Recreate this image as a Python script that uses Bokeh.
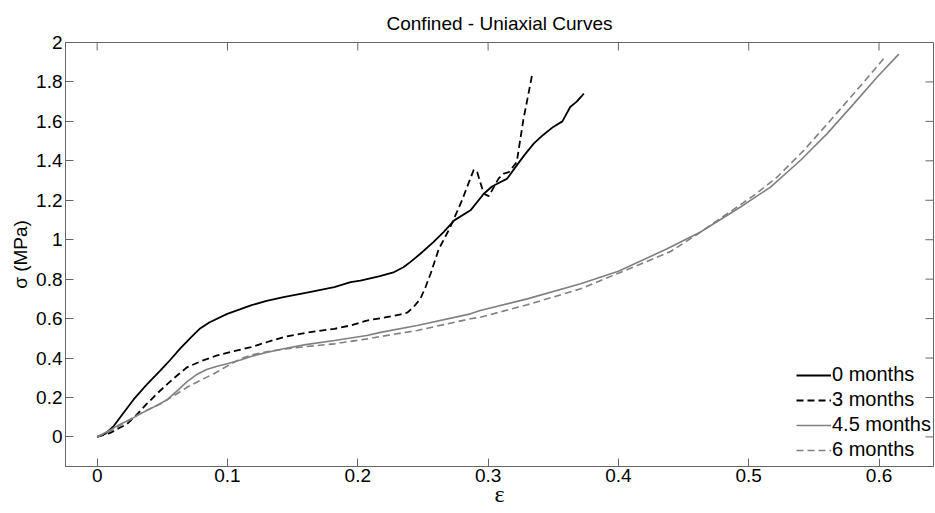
import math
from bokeh.plotting import figure
from bokeh.models import Range1d, FixedTicker, Legend, LegendItem
from bokeh.embed import file_html
from bokeh.resources import INLINE

title_text = "Confined - Uniaxial Curves"
x_label = "ε"
y_label = "σ (MPa)"
series_names = ["0 months", "3 months", "4.5 months", "6 months"]

x_ticks = [0.0, 0.1, 0.2, 0.3, 0.4, 0.5, 0.6]
x_tick_labels = ["0", "0.1", "0.2", "0.3", "0.4", "0.5", "0.6"]
y_ticks = [0.0, 0.2, 0.4, 0.6, 0.8, 1.0, 1.2, 1.4, 1.6, 1.8, 2.0]
y_tick_labels = ["0", "0.2", "0.4", "0.6", "0.8", "1", "1.2", "1.4", "1.6", "1.8", "2"]

x_start, x_end = -0.0243, 0.6418
y_start, y_end = -0.15, 2.0

# 0 months (black solid)
strain_0 = [0, 0.006, 0.0127, 0.02, 0.028, 0.038, 0.0486, 0.056, 0.064, 0.072, 0.079,
            0.086, 0.0998, 0.11, 0.118, 0.13, 0.143, 0.16, 0.182, 0.1945, 0.202, 0.217,
            0.228, 0.235, 0.24, 0.248, 0.258, 0.266, 0.274, 0.2865, 0.2967, 0.303,
            0.307, 0.3147, 0.322, 0.328, 0.335, 0.342, 0.350, 0.357, 0.363, 0.368, 0.3735]
stress_0 = [0, 0.015, 0.055, 0.12, 0.19, 0.265, 0.337, 0.39, 0.45, 0.505, 0.55,
            0.58, 0.624, 0.648, 0.667, 0.69, 0.709, 0.73, 0.76, 0.785, 0.793, 0.815,
            0.836, 0.86, 0.885, 0.929, 0.988, 1.04, 1.098, 1.149, 1.233, 1.27,
            1.284, 1.31, 1.377, 1.43, 1.487, 1.53, 1.572, 1.60, 1.673, 1.70, 1.741]

# 3 months (black dashed)
strain_3 = [0, 0.01, 0.017, 0.023, 0.03, 0.038, 0.046, 0.054, 0.062, 0.069, 0.08,
            0.092, 0.105, 0.118, 0.13, 0.143, 0.16, 0.182, 0.195, 0.207, 0.22, 0.232,
            0.238, 0.243, 0.248, 0.252, 0.256, 0.262, 0.271, 0.28, 0.289, 0.2916,
            0.2967, 0.3005, 0.303, 0.308, 0.312, 0.316, 0.322, 0.327, 0.334]
stress_3 = [0, 0.02, 0.045, 0.066, 0.11, 0.167, 0.22, 0.269, 0.315, 0.353, 0.385,
            0.413, 0.435, 0.455, 0.48, 0.506, 0.528, 0.548, 0.566, 0.59, 0.605, 0.62,
            0.63, 0.66, 0.70, 0.76, 0.83, 0.95, 1.064, 1.2, 1.355, 1.343,
            1.233, 1.221, 1.25, 1.31, 1.335, 1.343, 1.394, 1.606, 1.843]

# 4.5 months (grey solid)
strain_45 = [0, 0.01, 0.018, 0.026, 0.033, 0.043, 0.054, 0.062, 0.069, 0.076, 0.084,
             0.092, 0.0998, 0.11, 0.118, 0.13, 0.143, 0.16, 0.182, 0.207, 0.2174,
             0.2456, 0.2865, 0.294, 0.33, 0.371, 0.40, 0.4374, 0.463, 0.4937, 0.5167,
             0.5398, 0.5602, 0.5807, 0.5986, 0.6152]
stress_45 = [0, 0.035, 0.066, 0.09, 0.117, 0.15, 0.19, 0.237, 0.28, 0.315, 0.342,
             0.358, 0.371, 0.39, 0.408, 0.428, 0.447, 0.468, 0.489, 0.514, 0.53,
             0.565, 0.624, 0.641, 0.70, 0.777, 0.84, 0.954, 1.039, 1.166, 1.267,
             1.403, 1.538, 1.69, 1.825, 1.941]

# 6 months (grey dashed)
strain_6 = [0, 0.01, 0.018, 0.028, 0.038, 0.0486, 0.059, 0.069, 0.08, 0.0895, 0.1,
            0.11, 0.12, 0.13, 0.143, 0.156, 0.182, 0.207, 0.2174, 0.2456, 0.2865,
            0.294, 0.33, 0.371, 0.40, 0.44, 0.46, 0.4835, 0.504, 0.5219, 0.5423,
            0.5628, 0.5807, 0.596, 0.6037]
stress_6 = [0, 0.03, 0.06, 0.1, 0.135, 0.167, 0.21, 0.252, 0.29, 0.32, 0.36,
            0.396, 0.418, 0.432, 0.445, 0.455, 0.472, 0.497, 0.509, 0.54, 0.599,
            0.607, 0.67, 0.751, 0.83, 0.94, 1.025, 1.132, 1.225, 1.318, 1.453,
            1.606, 1.741, 1.859, 1.919]

FONT = "Liberation Sans"
AX_COLOR = "#666666"

p = figure(width=935, height=513, output_backend="svg", toolbar_location=None,
           x_range=Range1d(x_start, x_end), y_range=Range1d(y_start, y_end),
           min_border_left=65, min_border_right=2, min_border_top=42,
           min_border_bottom=47)
p.title.text = title_text
p.title.align = "center"
p.title.text_font = FONT
p.title.text_font_size = "19px"
p.title.text_font_style = "normal"
p.title.text_color = "black"
p.title.standoff = 17
p.xgrid.visible = False
p.ygrid.visible = False
p.outline_line_color = AX_COLOR
p.background_fill_color = "white"
p.border_fill_color = "white"


def style_axis(ax, ticks, labels):
    ax.ticker = FixedTicker(ticks=ticks)
    ax.axis_line_color = AX_COLOR
    ax.axis_line_width = 1
    ax.major_tick_line_color = AX_COLOR
    ax.major_tick_in = 8
    ax.major_tick_out = 0
    ax.minor_tick_line_color = None
    ax.major_label_overrides = {float(t): s for t, s in zip(ticks, labels)}
    ax.major_label_text_font = FONT
    ax.major_label_text_font_size = "19px"
    ax.major_label_text_color = "black"


xa = p.xaxis[0]
style_axis(xa, x_ticks, x_tick_labels)
xa.major_label_standoff = 2
xa.axis_label = x_label
xa.axis_label_text_font = "Liberation Serif"
xa.axis_label_text_font_size = "24px"
xa.axis_label_text_font_style = "normal"
xa.axis_label_text_color = "black"
xa.axis_label_standoff = -4

ya = p.yaxis[0]
style_axis(ya, y_ticks, y_tick_labels)
ya.major_label_standoff = 3
ya.axis_label = y_label
ya.axis_label_text_font = FONT
ya.axis_label_text_font_size = "19px"
ya.axis_label_text_font_style = "normal"
ya.axis_label_text_color = "black"
ya.axis_label_standoff = 2

# inward ticks on top and right edges of the box
p.ray(x=x_ticks, y=[y_end] * len(x_ticks), length=8, length_units="screen",
      angle=-math.pi / 2, line_color=AX_COLOR, line_width=1)
p.ray(x=[x_end] * len(y_ticks), y=y_ticks, length=8, length_units="screen",
      angle=math.pi, line_color=AX_COLOR, line_width=1)

r0 = p.line(strain_0, stress_0, line_color="black", line_width=1.8)
r3 = p.line(strain_3, stress_3, line_color="black", line_width=1.8, line_dash="7 4")
r45 = p.line(strain_45, stress_45, line_color="#808080", line_width=1.6)
r6 = p.line(strain_6, stress_6, line_color="#808080", line_width=1.6, line_dash="7 4")

legend = Legend(items=[LegendItem(label=n, renderers=[r])
                       for n, r in zip(series_names, [r0, r3, r45, r6])],
                location=(731, 5))
legend.border_line_color = None
legend.background_fill_alpha = 0
legend.label_text_font = FONT
legend.label_text_font_size = "20px"
legend.label_text_color = "black"
legend.glyph_width = 35
legend.glyph_height = 20
legend.label_height = 20
legend.label_standoff = 1
legend.spacing = 2
legend.padding = 0
legend.margin = 0
p.add_layout(legend)

open("out.html", "w").write(file_html(p, INLINE))
